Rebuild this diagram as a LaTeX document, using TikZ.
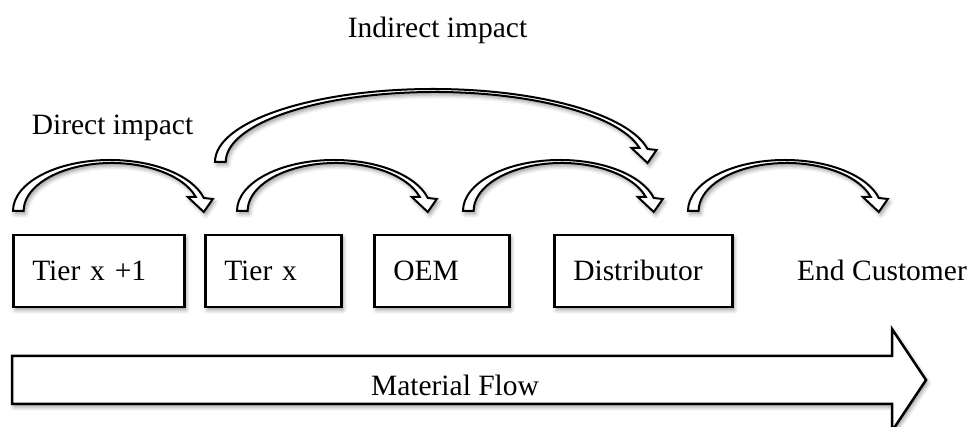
\documentclass[tikz,border=0pt]{standalone}
\usepackage{fontspec}
\setmainfont{Liberation Serif}
\usepackage{tikz}
\usetikzlibrary{shadows.blur}

\tikzset{
	softshadow/.style={blur shadow={shadow xshift=1pt, shadow yshift=-1.5pt,
		shadow blur radius=2pt, shadow opacity=40}},
	stage/.style={draw, line width=1.25pt, fill=white, softshadow,
		minimum height=36pt, inner xsep=9.5pt, text height=10pt, text depth=0pt,
		align=left, anchor=west},
	note/.style={inner sep=0pt},
	% curved block arrow: foot at the origin, #1 = half width, #2 = height
	pics/impact/.style 2 args={code={
		\draw[line width=1pt, fill=white, softshadow, line join=miter]
			(0,0) arc[start angle=180, end angle={asin(13/#2)}, x radius=#1, y radius=#2]
			-- ++(9,-1) -- ++(-9,-13) -- ++(-16,15) -- ++(8,0)
			arc[start angle={asin(14/(#2-3))}, end angle=180, x radius={#1-9}, y radius={#2-3}]
			-- cycle;
	}}
}

\begin{document}
\begin{tikzpicture}[x=0.5pt, y=0.5pt, font=\fontsize{14.75}{17}\selectfont]
		\clip (0,0) rectangle (970,427);

		\node[stage, text width=66.5pt] (A) at (12,156) {Tier x +1};
		\node[stage, text width=49pt] (B) at (204,156) {Tier x};
		\node[stage, text width=48.5pt] (C) at (373,156) {OEM};
		\node[stage, text width=70pt] (D) at (553,156) {Distributor};
		\node[note, text height=10pt, text depth=0pt] (E) at (882,156) {End Customer};

		\node[note] (DI) at (112.5,299) {Direct impact};
		\node[note] (II) at (437.5,397) {Indirect impact};

		% one step along the chain
		\foreach \x in {13,237,463,688}
			\pic at (\x,216) {impact={97}{51}};
		% two steps
		\pic at (215,265) {impact={218}{73}};

		% material flow
		\draw[line width=1.25pt, fill=white, softshadow, line join=miter]
			(12,71) -- (892,71) -- (892,98) -- (926,47) -- (892,-4) -- (892,23) -- (12,23) -- cycle;
		\node[note] (M) at (455,42) {Material Flow};
	\end{tikzpicture}
\end{document}
